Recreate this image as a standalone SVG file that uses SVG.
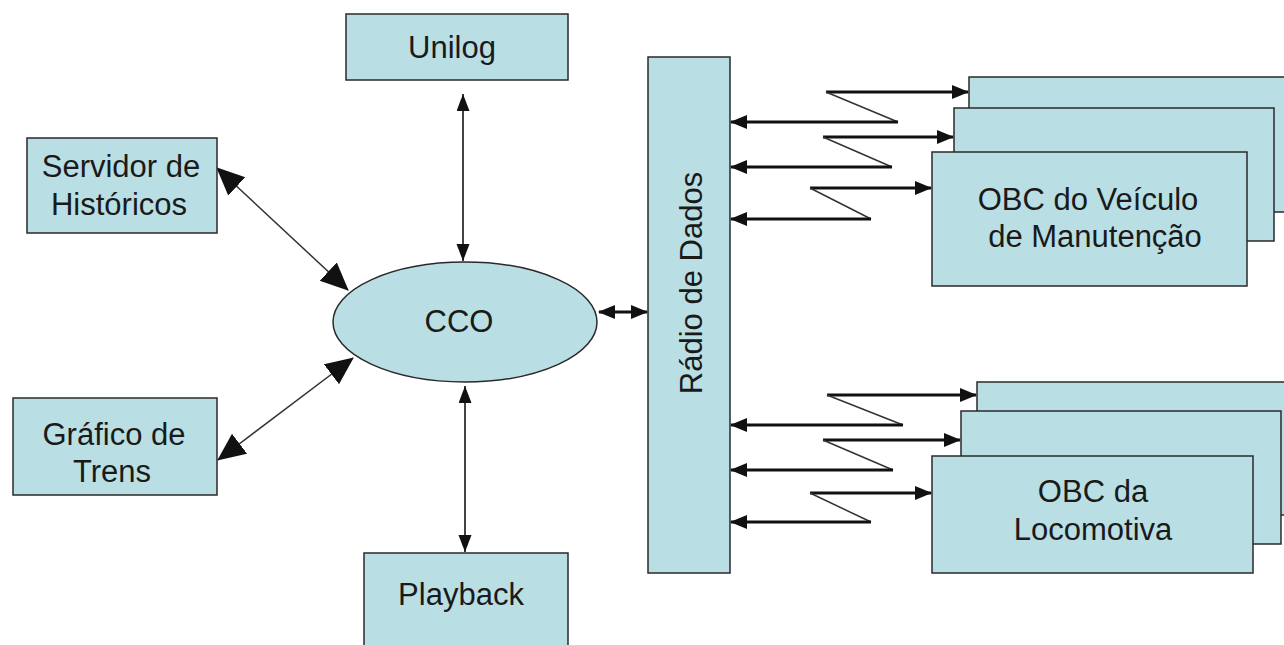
<svg xmlns="http://www.w3.org/2000/svg" width="1284" height="645" viewBox="0 0 1284 645">
<style>
.box{fill:#b9dfe4;stroke:#2a2a2a;stroke-width:1.5}
.t{font-family:"Liberation Sans",Arial,sans-serif;font-size:31px;fill:#1a1a1a;text-anchor:middle}
.thin{stroke:#333;stroke-width:1.5;fill:none}
.mid{stroke:#444;stroke-width:2;fill:none}
.thick{stroke:#111;stroke-width:3;fill:none}
</style>
<defs>
<marker id="big" markerUnits="userSpaceOnUse" markerWidth="30" markerHeight="26" refX="27" refY="12.5" orient="auto-start-reverse">
<path d="M0,0 L28,12.5 L0,25 z" fill="#111"/>
</marker>
<marker id="med" markerUnits="userSpaceOnUse" markerWidth="18" markerHeight="14" refX="17" refY="6.5" orient="auto-start-reverse">
<path d="M0,0 L17,6.5 L0,13 z" fill="#111"/>
</marker>
<marker id="zz" markerUnits="userSpaceOnUse" markerWidth="18" markerHeight="15" refX="16" refY="7" orient="auto-start-reverse">
<path d="M0,0 L17,7 L0,14 z" fill="#111"/>
</marker>
</defs>
<rect width="1284" height="645" fill="#fff"/>

<g id="connectors">
<line class="thin" x1="217" y1="168" x2="348" y2="290" marker-start="url(#big)" marker-end="url(#big)"/>
<line class="thin" x1="218" y1="460" x2="353" y2="358" marker-start="url(#big)" marker-end="url(#big)"/>
<line class="mid" x1="463" y1="94" x2="463" y2="261" marker-start="url(#med)" marker-end="url(#med)"/>
<line class="mid" x1="465" y1="386" x2="465" y2="552" marker-start="url(#med)" marker-end="url(#med)"/>
<line class="thick" x1="599" y1="312" x2="647" y2="312" marker-start="url(#zz)" marker-end="url(#zz)"/>
</g>

<g id="cco">
<ellipse class="box" cx="465" cy="322" rx="132" ry="60"/>
<text class="t" x="459" y="332">CCO</text>
</g>
<g id="unilog">
<rect class="box" x="346" y="14" width="222" height="66"/>
<text class="t" x="452" y="58">Unilog</text>
</g>
<g id="servidor">
<rect class="box" x="27" y="138" width="190" height="95"/>
<text class="t" x="121" y="177">Servidor de</text>
<text class="t" x="119" y="215">Históricos</text>
</g>
<g id="grafico">
<rect class="box" x="13" y="398" width="204" height="97"/>
<text class="t" x="114" y="445">Gráfico de</text>
<text class="t" x="112" y="482">Trens</text>
</g>
<g id="playback">
<rect class="box" x="364" y="553" width="204" height="100"/>
<text class="t" x="461" y="605">Playback</text>
</g>
<g id="radio">
<rect class="box" x="648" y="57" width="82" height="516"/>
<text class="t" transform="translate(702,283) rotate(-90)">Rádio de Dados</text>
</g>

<g id="obc-manutencao">
<rect class="box" x="969" y="77" width="330" height="135"/>
<rect class="box" x="954" y="108" width="320" height="133"/>
<rect class="box" x="932" y="152" width="315" height="134"/>
<text class="t" x="1088" y="210">OBC do Veículo</text>
<text class="t" x="1095" y="247">de Manutenção</text>
</g>
<g id="obc-locomotiva">
<rect class="box" x="977" y="382" width="330" height="133"/>
<rect class="box" x="961" y="411" width="320" height="133"/>
<rect class="box" x="932" y="456" width="321" height="117"/>
<text class="t" x="1093" y="502">OBC da</text>
<text class="t" x="1093" y="540">Locomotiva</text>
</g>

<g id="radio-links">
<line class="thick" x1="826" y1="92" x2="968" y2="92" marker-end="url(#zz)"/>
<line class="thin" x1="826" y1="92" x2="898" y2="122"/>
<line class="thick" x1="898" y1="122" x2="731" y2="122" marker-end="url(#zz)"/>
<line class="thick" x1="823" y1="137" x2="953" y2="137" marker-end="url(#zz)"/>
<line class="thin" x1="823" y1="137" x2="892" y2="167"/>
<line class="thick" x1="892" y1="167" x2="731" y2="167" marker-end="url(#zz)"/>
<line class="thick" x1="810" y1="188" x2="931" y2="188" marker-end="url(#zz)"/>
<line class="thin" x1="810" y1="188" x2="871" y2="219"/>
<line class="thick" x1="871" y1="219" x2="731" y2="219" marker-end="url(#zz)"/>

<line class="thick" x1="827" y1="395" x2="976" y2="395" marker-end="url(#zz)"/>
<line class="thin" x1="827" y1="395" x2="903" y2="425"/>
<line class="thick" x1="903" y1="425" x2="731" y2="425" marker-end="url(#zz)"/>
<line class="thick" x1="823" y1="440" x2="960" y2="440" marker-end="url(#zz)"/>
<line class="thin" x1="823" y1="440" x2="893" y2="470"/>
<line class="thick" x1="893" y1="470" x2="731" y2="470" marker-end="url(#zz)"/>
<line class="thick" x1="810" y1="493" x2="931" y2="493" marker-end="url(#zz)"/>
<line class="thin" x1="810" y1="493" x2="871" y2="522"/>
<line class="thick" x1="871" y1="522" x2="731" y2="522" marker-end="url(#zz)"/>
</g>
</svg>
